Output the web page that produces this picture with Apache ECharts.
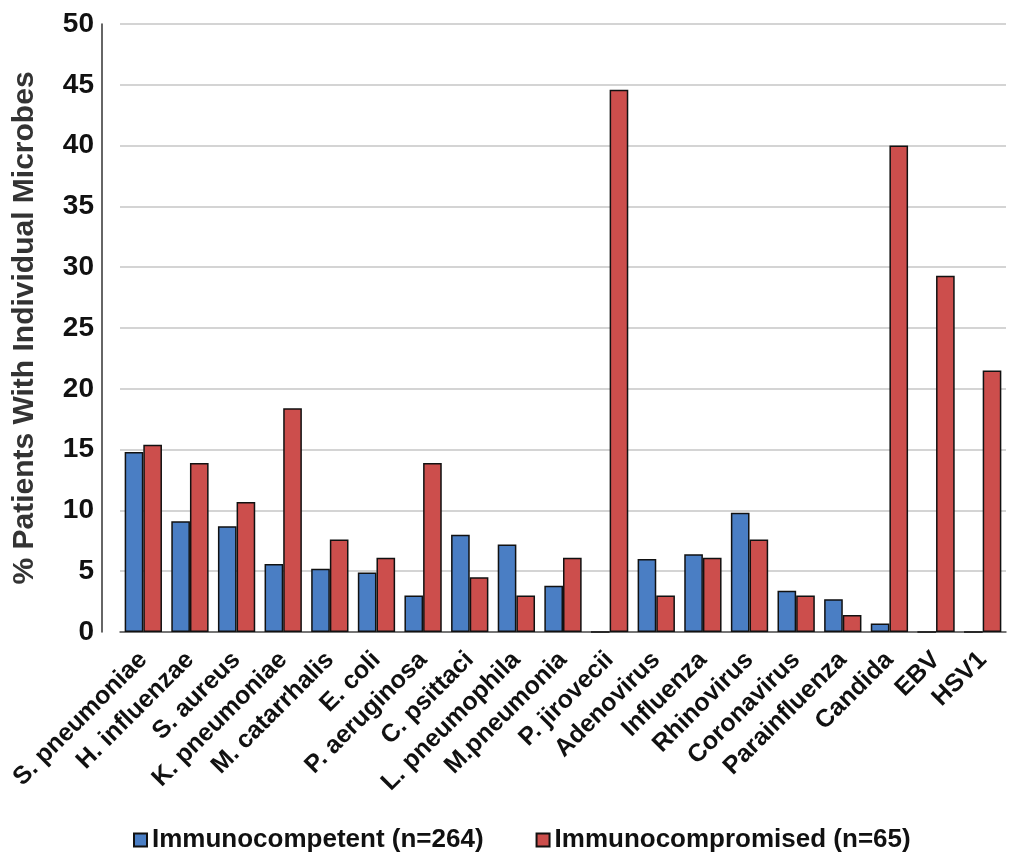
<!DOCTYPE html>
<html><head><meta charset="utf-8">
<script src="https://cdn.jsdelivr.net/npm/echarts@6/dist/echarts.min.js"></script>
<style>html,body{margin:0;padding:0;background:#fff}#c{width:1014px;height:854px}</style>
</head><body><div id="c"></div>
<script>
const categories = ["S. pneumoniae","H. influenzae","S. aureus","K. pneumoniae","M. catarrhalis","E. coli","P. aeruginosa","C. psittaci","L. pneumophila","M.pneumonia","P. jirovecii","Adenovirus","Influenza","Rhinovirus","Coronavirus","Parainfluenza","Candida","EBV","HSV1"];
const immunocompetent = [14.8, 9.1, 8.7, 5.6, 5.2, 4.9, 3.0, 8.0, 7.2, 3.8, 0, 6.0, 6.4, 9.8, 3.4, 2.7, 0.7, 0, 0];
const immunocompromised = [15.4, 13.9, 10.7, 18.4, 7.6, 6.1, 13.9, 4.5, 3.0, 6.1, 44.6, 3.0, 6.1, 7.6, 3.0, 1.4, 40.0, 29.3, 21.5];
const seriesNames = ["Immunocompetent (n=264)", "Immunocompromised (n=65)"];
const yTicks = {min: 0, max: 50, interval: 5};

const chart = echarts.init(document.getElementById('c'));
const font = '"Liberation Sans", Arial, sans-serif';
chart.setOption({
  animation: false,
  grid: {left: 120, right: 8, top: 24, bottom: 222},
  legend: {
    bottom: -4, left: 128,
    itemWidth: 13, itemHeight: 13, itemGap: 52,
    icon: 'rect',
    textStyle: {fontFamily: font, fontWeight: 'bold', fontSize: 26, color: '#111'},
    data: seriesNames
  },
  xAxis: {
    type: 'category', data: categories,
    axisLine: {lineStyle: {color: '#555', width: 1.5}},
    axisTick: {show: false},
    axisLabel: {rotate: 45, interval: 0, margin: 24, fontFamily: font, fontWeight: 'bold', fontSize: 25, color: '#111'}
  },
  yAxis: {
    type: 'value', min: yTicks.min, max: yTicks.max, interval: yTicks.interval,
    offset: 18,
    name: '% Patients With Individual Microbes', nameLocation: 'middle', nameGap: 62,
    nameTextStyle: {fontFamily: font, fontSize: 30, fontWeight: 'bold', color: '#333'},
    axisLine: {show: true, lineStyle: {color: '#333', width: 1.5}},
    axisTick: {show: false},
    splitLine: {lineStyle: {color: '#d4d4d4', width: 2}},
    axisLabel: {margin: 8, fontFamily: font, fontWeight: 'bold', fontSize: 28, color: '#111'}
  },
  series: [
    {name: seriesNames[0], type: 'bar', data: immunocompetent, barGap: '0%', barCategoryGap: '20%',
     itemStyle: {color: '#4a7ec4', borderColor: '#111', borderWidth: 1.5}},
    {name: seriesNames[1], type: 'bar', data: immunocompromised, barGap: '0%', barCategoryGap: '20%',
     itemStyle: {color: '#cc4e4c', borderColor: '#111', borderWidth: 1.5}}
  ]
});
</script></body></html>
